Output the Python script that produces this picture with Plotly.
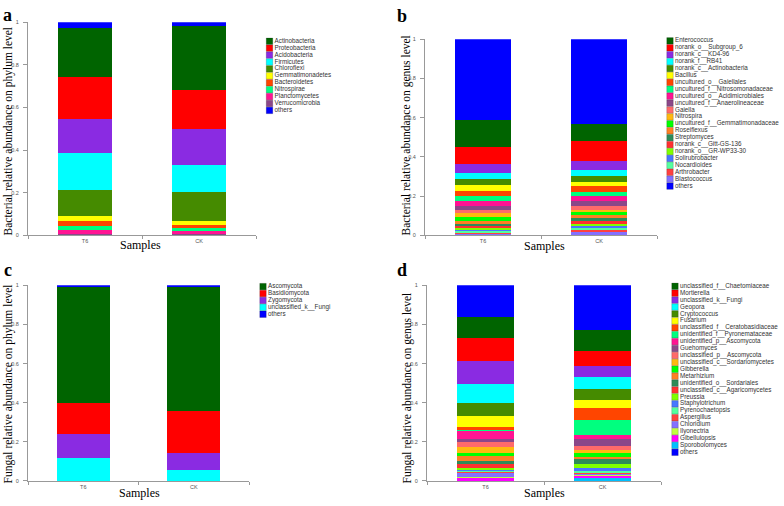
import plotly.graph_objects as go

W, H = 784, 506
ROW = 7.0  # legend row pitch in px

samples = ["T6", "CK"]

# a  bacteria, phylum level (legend order, top to bottom)
bac_phy_names = ["Actinobacteria", "Proteobacteria", "Acidobacteria", "Firmicutes", "Chloroflexi",
                 "Gemmatimonadetes", "Bacteroidetes", "Nitrospirae", "Planctomycetes",
                 "Verrucomicrobia", "others"]
bac_phy_t6 = [0.230, 0.198, 0.159, 0.177, 0.120, 0.024, 0.021, 0.020, 0.017, 0.008, 0.026]
bac_phy_ck = [0.299, 0.184, 0.168, 0.128, 0.134, 0.019, 0.015, 0.016, 0.013, 0.005, 0.019]

# b  bacteria, genus level
bac_gen_names = ["Enterococcus", "norank_o__Subgroup_6", "norank_c__KD4-96", "norank_f__RB41",
                 "norank_c__Actinobacteria", "Bacillus", "uncultured_o__Gaiellales",
                 "uncultured_f__Nitrosomonadaceae", "uncultured_o__Acidimicrobiales",
                 "uncultured_f__Anaerolineaceae", "Gaiella", "Nitrospira",
                 "uncultured_f__Gemmatimonadaceae", "Roseiflexus", "Streptomyces",
                 "norank_c__Gitt-GS-136", "norank_o__GR-WP33-30", "Solirubrobacter",
                 "Nocardioides", "Arthrobacter", "Blastococcus", "others"]
bac_gen_t6 = [0.135, 0.089, 0.044, 0.033, 0.029, 0.030, 0.027, 0.027, 0.023, 0.019, 0.020,
              0.020, 0.019, 0.013, 0.010, 0.010, 0.009, 0.008, 0.007, 0.007, 0.008, 0.413]
bac_gen_ck = [0.091, 0.099, 0.046, 0.030, 0.033, 0.022, 0.027, 0.022, 0.023, 0.027, 0.019,
              0.013, 0.017, 0.015, 0.015, 0.012, 0.010, 0.010, 0.012, 0.010, 0.017, 0.430]

# c  fungi, phylum level
fun_phy_names = ["Ascomycota", "Basidiomycota", "Zygomycota", "unclassified_k__Fungi", "others"]
fun_phy_t6 = [0.592, 0.162, 0.123, 0.116, 0.007]
fun_phy_ck = [0.633, 0.219, 0.085, 0.056, 0.007]

# d  fungi, genus level
fun_gen_names = ["unclassified_f__Chaetomiaceae", "Mortierella", "unclassified_k__Fungi", "Geopora",
                 "Cryptococcus", "Fusarium", "unclassified_f__Ceratobasidiaceae",
                 "unidentified_f__Pyronemataceae", "unidentified_p__Ascomycota", "Guehomyces",
                 "unclassified_p__Ascomycota", "unclassified_c__Sordariomycetes", "Gibberella",
                 "Metarhizium", "unidentified_o__Sordariales", "unclassified_c__Agaricomycetes",
                 "Preussia", "Staphylotrichum", "Pyrenochaetopsis", "Aspergillus", "Chloridium",
                 "Ilyonectria", "Gibellulopsis", "Sporobolomyces", "others"]
fun_gen_t6 = [0.106, 0.118, 0.116, 0.100, 0.064, 0.055, 0.018, 0.002, 0.041, 0.017, 0.026, 0.029,
              0.019, 0.025, 0.012, 0.025, 0.005, 0.005, 0.005, 0.009, 0.018, 0.007, 0.013, 0.002,
              0.163]
fun_gen_ck = [0.108, 0.076, 0.057, 0.060, 0.058, 0.042, 0.060, 0.076, 0.019, 0.037, 0.023, 0.012,
              0.022, 0.008, 0.026, 0.003, 0.022, 0.012, 0.010, 0.008, 0.005, 0.005, 0.007, 0.017,
              0.227]

palette = ["#006400", "#FF0000", "#8A2BE2", "#00FFFF", "#458B00", "#FFFF00", "#FF4500", "#00FF7F",
           "#FF1493", "#8B4789", "#FF6A6A", "#FFB90F", "#00FF00", "#FF7F24", "#2E8B57", "#FF3030",
           "#7FFF00", "#4876FF", "#54FF9F", "#FF4040", "#8470FF", "#C0FF3E", "#FF00FF", "#00BFFF"]
OTHERS = "#0000FF"

panels = [
    dict(letter="a", names=bac_phy_names, t6=bac_phy_t6, ck=bac_phy_ck,
         ytitle="Bacterial relative abundance on phylum level",
         xdom=(28, 256), ydom=(19.5, 235), leg=(269.5, 38.7), lpos=(8, 12), ypos=(8, 130), spos=(140, 245)),
    dict(letter="b", names=bac_gen_names, t6=bac_gen_t6, ck=bac_gen_ck,
         ytitle="Bacterial relative abundance on genus level",
         xdom=(425, 657), ydom=(36.7, 235), leg=(670, 38.3), lpos=(402, 13), ypos=(406, 134), spos=(544, 246)),
    dict(letter="c", names=fun_phy_names, t6=fun_phy_t6, ck=fun_phy_ck,
         ytitle="Fungal relative abundance on phylum level",
         xdom=(28, 249), ydom=(285.7, 483.7), leg=(263, 287), lpos=(8, 270), ypos=(8, 386), spos=(139, 496)),
    dict(letter="d", names=fun_gen_names, t6=fun_gen_t6, ck=fun_gen_ck,
         ytitle="Fungal relative abundance on genus level",
         xdom=(427, 661), ydom=(285.7, 483.7), leg=(675, 286.7), lpos=(402, 270), ypos=(407, 390), spos=(544, 496)),
]

serif = "Liberation Serif, Times New Roman, serif"
sans = "Liberation Sans, Arial, sans-serif"

fig = go.Figure()
layout = {}
annotations = []


def note(text, pos, size, bold=False, angle=0):
    if bold:
        text = "<b>%s</b>" % text
    return dict(text=text, x=pos[0] / W, y=1 - pos[1] / H, xref="paper", yref="paper",
                xanchor="center", yanchor="middle", showarrow=False, textangle=angle,
                font=dict(family=serif, size=size, color="black"))


for i, p in enumerate(panels):
    n = i + 1
    m = n + 4
    ax = "" if n == 1 else str(n)
    names = p["names"]
    colors = palette[:len(names) - 1] + [OTHERS]

    # stacked bars: last named taxon at the bottom, others on top
    order = list(range(len(names) - 2, -1, -1)) + [len(names) - 1]
    for j in order:
        fig.add_bar(x=samples, y=[p["t6"][j], p["ck"][j]], name=names[j],
                    marker=dict(color=colors[j], line_width=0),
                    xaxis="x" + ax, yaxis="y" + ax, showlegend=False)

    # hand-made compact legend
    fig.add_scatter(x=[0] * len(names), y=names, mode="markers+text", text=names,
                    textposition="middle right", cliponaxis=False, hoverinfo="skip",
                    textfont=dict(family=sans, size=6.3, color="#333333"),
                    marker=dict(symbol="square", size=6.5, color=colors,
                                line=dict(width=0.5, color="rgba(0,0,0,0.35)")),
                    xaxis="x%d" % m, yaxis="y%d" % m, showlegend=False)

    x0, x1 = p["xdom"]
    y0, y1 = p["ydom"]
    layout["xaxis" + ax] = dict(
        domain=[x0 / W, x1 / W], anchor="y" + ax, type="category", range=[-0.5, 1.5],
        showline=True, linecolor="#999999", linewidth=1, ticks="outside", tickson="boundaries",
        ticklen=3, tickcolor="#999999", tickfont=dict(family=sans, size=5.5, color="#555555"),
        showgrid=False, zeroline=False)
    layout["yaxis" + ax] = dict(
        domain=[1 - y1 / H, 1 - y0 / H], anchor="x" + ax, range=[0, 1],
        tickvals=[0, 0.2, 0.4, 0.6, 0.8, 1], ticktext=["0", "0.2", "0.4", "0.6", "0.8", "1"],
        showline=True, linecolor="#999999", linewidth=1, ticks="outside", ticklen=4,
        tickcolor="#999999", tickfont=dict(family=sans, size=5.5, color="#555555"),
        ticklabelstandoff=3, showgrid=False, zeroline=False)

    lx, ly = p["leg"]
    layout["xaxis%d" % m] = dict(domain=[lx / W, min(lx / W + 0.12, 1)], range=[0, 1],
                                 anchor="y%d" % m, visible=False)
    layout["yaxis%d" % m] = dict(domain=[0, 1], type="category", categoryorder="array",
                                 categoryarray=names, range=[(H - ly) / ROW, -ly / ROW],
                                 anchor="x%d" % m, visible=False)

    annotations.append(note(p["letter"], p["lpos"], 18, bold=True))
    annotations.append(note(p["ytitle"], p["ypos"], 11.5, angle=-90))
    annotations.append(note("Samples", p["spos"], 12))

fig.update_layout(
    width=W, height=H, margin=dict(l=0, r=0, t=0, b=0),
    paper_bgcolor="white", plot_bgcolor="rgba(0,0,0,0)",
    barmode="stack", bargap=0.52, showlegend=False,
    annotations=annotations, **layout)

fig.write_html("out.html", config={"displayModeBar": False},
               post_script="document.body.style.margin='0';")
